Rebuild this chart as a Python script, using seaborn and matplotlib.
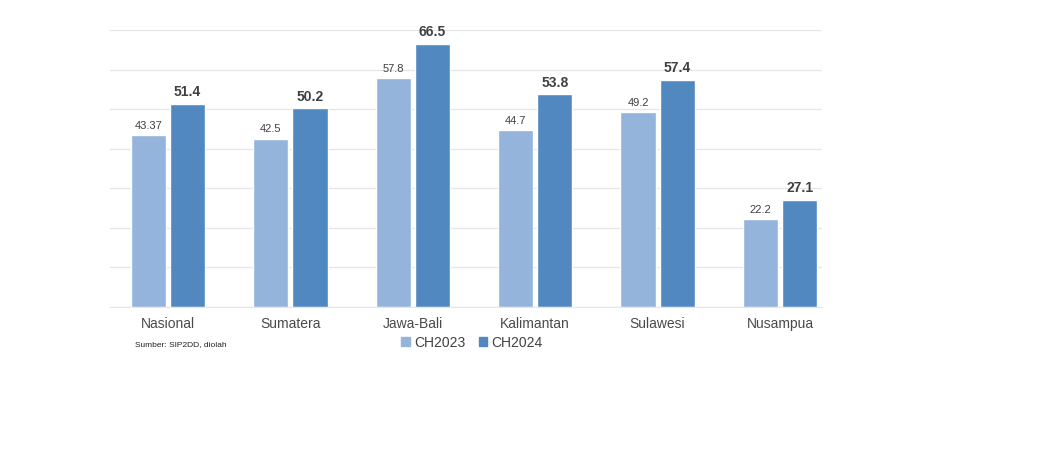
import pandas as pd
import matplotlib.pyplot as plt
import seaborn as sns

# data
regions = ['Nasional', 'Sumatera', 'Jawa-Bali', 'Kalimantan', 'Sulawesi', 'Nusampua']
ch2023 = [43.37, 42.5, 57.8, 44.7, 49.2, 22.2]
ch2024 = [51.4, 50.2, 66.5, 53.8, 57.4, 27.1]
labels_2023 = ['43.37', '42.5', '57.8', '44.7', '49.2', '22.2']
labels_2024 = ['51.4', '50.2', '66.5', '53.8', '57.4', '27.1']
series = ['CH2023', 'CH2024']
colors = ['#95B4DC', '#5088BF']

df = pd.DataFrame({
    'Wilayah': regions * 2,
    'Nilai': ch2023 + ch2024,
    'Seri': [series[0]] * len(regions) + [series[1]] * len(regions),
})

sns.set_style('white')
plt.rcParams['font.family'] = ['Liberation Sans', 'DejaVu Sans']

fig = plt.figure(figsize=(10.6, 4.6), dpi=100)
ax = fig.add_axes([110 / 1060, 1 - 308 / 460, 712 / 1060, 277 / 460])

sns.barplot(data=df, x='Wilayah', y='Nilai', hue='Seri', palette=colors,
            width=0.64, gap=0.1, ax=ax, legend=False, saturation=1)

ax.set_ylim(0, 70)
ax.set_xlim(-0.474, 5.343)
ax.set_yticks(range(0, 71, 10))
ax.yaxis.grid(True, color='#e6e6e6', linewidth=0.9)
ax.set_axisbelow(True)
ax.tick_params(axis='y', left=False, labelleft=False)
ax.tick_params(axis='x', bottom=False, labelsize=10, labelcolor='#4a4a4a', pad=3)
ax.set_xlabel('')
ax.set_ylabel('')
for side in ['top', 'right', 'left']:
    ax.spines[side].set_visible(False)
ax.spines['bottom'].set_color('#e6e6e6')

ax.bar_label(ax.containers[0], labels=labels_2023, padding=4,
             fontsize=8, color='#404040')
ax.bar_label(ax.containers[1], labels=labels_2024, padding=4,
             fontsize=10, fontweight='bold', color='#404040')

handles = [plt.Rectangle((0, 0), 1, 1, color=c) for c in colors]
fig.legend(handles, series, loc='center', bbox_to_anchor=(472 / 1060, 1 - 343 / 460),
           ncol=2, frameon=False, fontsize=10, handlelength=0.6, handleheight=0.6,
           handletextpad=0.3, columnspacing=1.0, labelcolor='#404040')

fig.text(135 / 1060, 1 - 345 / 460, 'Sumber: SIP2DD, diolah', fontsize=6,
         color='#222222', va='center')

fig.savefig('out.png', dpi=100, facecolor='white')
